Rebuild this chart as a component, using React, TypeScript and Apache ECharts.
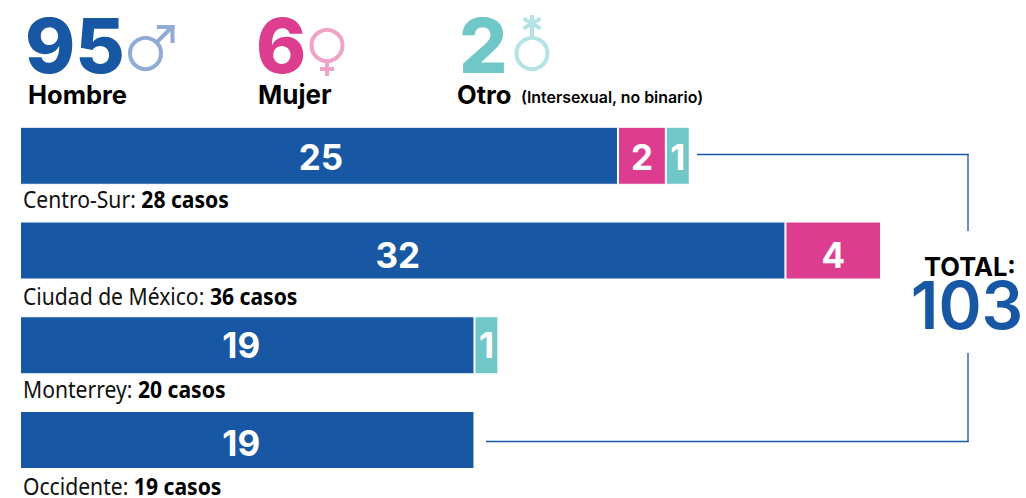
import React, { useEffect, useRef } from "react";
import * as echarts from "echarts";

const categories = ["Centro-Sur", "Ciudad de México", "Monterrey", "Occidente"];
const totals = [28, 36, 20, 19];
const hombre = [25, 32, 19, 19];
const mujer: (number | null)[] = [2, 4, null, null];
const otro: (number | null)[] = [1, null, 1, null];

const hombreShift = [[2, 1], [-5, 4.5], [-6, 0], [-6, 3]];
const mujerShift = [[0, 1], [0, 4.5], [0, 0], [0, 0]];
const otroShift = [[0, 1], [0, 0], [0, 0], [0, 0]];
const captionShift = [-1, 1, 0, 2];

const BLUE = "#1857a4";
const PINK = "#dc3d8f";
const TEAL = "#6fc7c8";
const LBLUE = "#8fadd4";
const LPINK = "#f0a3c8";
const LTEAL = "#b5e3e5";
const HEAD = "Inter, 'Liberation Sans', sans-serif";
const COND = "'Noto Sans', sans-serif";
const GRID_TOP = 108.4;
const GRID_H = 379;

const txt = (x: number, y: number, text: string, size: number, fill: string, weight: number | string = 700, align = "left") => ({
  type: "text", x, y,
  style: { text, fontSize: size, fontWeight: weight, fontFamily: HEAD, fill, align, verticalAlign: "middle" },
});
const ln = (x1: number, y1: number, x2: number, y2: number, stroke: string, lineWidth = 4) => ({
  type: "line", shape: { x1, y1, x2, y2 }, style: { stroke, lineWidth },
});
const ring = (cx: number, cy: number, r: number, stroke: string) => ({
  type: "circle", shape: { cx, cy, r }, style: { fill: "none", stroke, lineWidth: 4 },
});

const barSeries = (name: string, data: (number | null)[], color: string, shift: number[][]) => ({
  name, type: "bar", stack: "t", barWidth: 58,
  data: data.map((value, i) => ({ value, label: { offset: shift[i] } })),
  itemStyle: { color, borderColor: "#fff", borderWidth: 1 },
  label: { show: true, position: "inside", color: "#fff", fontFamily: HEAD, fontWeight: 700, fontSize: 35 },
});

export default function App() {
  const ref = useRef<HTMLDivElement>(null);
  useEffect(() => {
    document.body.style.margin = "0";
    const chart = echarts.init(ref.current!, undefined, { renderer: "svg" });
    const caseLabels = categories.map((c, i) => ({
      type: "text",
      x: 23,
      y: GRID_TOP + (GRID_H / categories.length) * (i + 0.5) + 44 + captionShift[i],
      scaleX: 0.88,
      style: {
        text: `{a|${c}: }{b|${totals[i]} casos}`,
        verticalAlign: "middle",
        rich: {
          a: { fontFamily: COND, fontSize: 24, lineHeight: 20, fill: "#111" },
          b: { fontFamily: COND, fontSize: 24, lineHeight: 20, fontWeight: 700, fill: "#000" },
        },
      },
    }));
    chart.setOption({
      animation: false,
      backgroundColor: "#fff",
      grid: { left: 20, top: GRID_TOP, width: 956.8, height: GRID_H },
      xAxis: { type: "value", min: 0, max: 40, show: false },
      yAxis: {
        type: "category", inverse: true, data: categories,
        axisLine: { show: false }, axisTick: { show: false }, axisLabel: { show: false },
      },
      series: [barSeries("Hombre", hombre, BLUE, hombreShift), barSeries("Mujer", mujer, PINK, mujerShift), barSeries("Otro", otro, TEAL, otroShift)],
      graphic: [
        ...caseLabels,
        txt(25, 45, "95", 76, BLUE, 800),
        txt(256, 45, "6", 76, PINK, 800),
        txt(459, 45, "2", 76, TEAL, 800),
        txt(28, 94, "Hombre", 25.5, "#000"),
        txt(258, 94, "Mujer", 26, "#000"),
        txt(457, 94, "Otro", 25.5, "#000"),
        txt(521, 97, "(Intersexual, no binario)", 15.9, "#000", 600),
        ring(145.5, 53.5, 15.5, LBLUE),
        ln(156.5, 42.5, 171, 28, LBLUE),
        ln(157, 27, 174.5, 27, LBLUE),
        ln(172.5, 25, 172.5, 43, LBLUE),
        ring(327, 45.5, 15.5, LPINK),
        ln(327, 61, 327, 76, LPINK),
        ln(320, 69, 334, 69, LPINK),
        ring(532, 53.5, 15.5, LTEAL),
        ln(532, 36, 532, 15, LTEAL),
        ln(523.5, 18.5, 540.5, 28.5, LTEAL),
        ln(540.5, 18.5, 523.5, 28.5, LTEAL),
        ln(697, 154.5, 968.7, 154.5, BLUE, 1.3),
        ln(968, 154, 968, 231, BLUE, 1.3),
        ln(968, 353, 968, 442, BLUE, 1.3),
        ln(968.7, 441.5, 486, 441.5, BLUE, 1.3),
        txt(970, 266, "TOTAL:", 25.5, "#000", 700, "center"),
        txt(967, 305, "103", 65.5, BLUE, 600, "center"),
      ],
    });
    return () => chart.dispose();
  }, []);
  return <div ref={ref} style={{ width: 1026, height: 498 }} />;
}
